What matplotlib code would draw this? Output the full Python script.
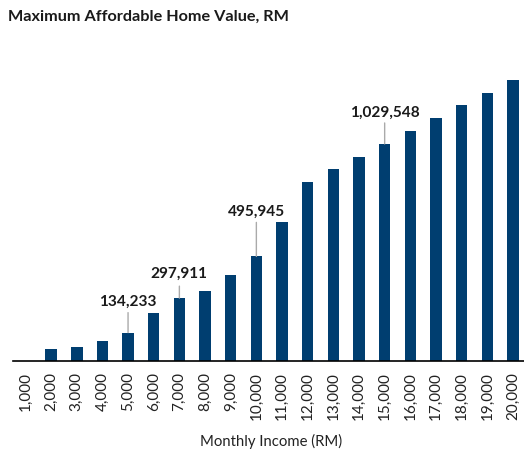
import matplotlib
matplotlib.use("Agg")
import matplotlib.pyplot as plt

incomes = ["1,000", "2,000", "3,000", "4,000", "5,000", "6,000", "7,000", "8,000", "9,000", "10,000",
           "11,000", "12,000", "13,000", "14,000", "15,000", "16,000", "17,000", "18,000", "19,000", "20,000"]
values = [0, 55500, 66400, 95000, 134233, 229000, 297911, 332000, 408000, 495945,
          658000, 849000, 911000, 969000, 1029548, 1091000, 1151000, 1213000, 1273000, 1332000]
labelled = {"5,000": 134233, "7,000": 297911, "10,000": 495945, "15,000": 1029548}

plt.rcParams['font.family'] = ['Lato', 'DejaVu Sans']

fig = plt.figure(figsize=(5.24, 4.5), dpi=100)
ax = fig.add_axes([0.024, 0.198, 0.976, 0.6556])
x = list(range(len(incomes)))
ax.bar(x, values, width=0.45, color="#003e70", zorder=2)
ax.set_xlim(-0.5, 19.43)
ax.set_ylim(0, 1400000)
ax.set_xticks(x)
ax.set_xticklabels(incomes, rotation=90, fontsize=11, color="#222222")
ax.tick_params(axis='x', length=0, pad=8)
ax.set_yticks([])
for s in ["top", "right", "left"]:
    ax.spines[s].set_visible(False)
ax.spines["bottom"].set_color("black")
ax.spines["bottom"].set_linewidth(1.2)
fig.text(0.517, (450 - 441) / 450, "Monthly Income (RM)", fontsize=10.7, color="#222222",
         ha="center", va="center")

offsets = {"5,000": (31, 20), "7,000": (24, 12), "10,000": (45, 34), "15,000": (31, 21)}
for cat, val in labelled.items():
    i = incomes.index(cat)
    toff, loff = offsets[cat]
    ax.annotate("", xy=(i, val), xytext=(0, loff), textcoords="offset pixels",
                arrowprops=dict(arrowstyle="-", color="#aaaaaa", lw=1, shrinkA=0, shrinkB=0))
    ax.annotate(f"{val:,}", xy=(i, val), xytext=(0, toff), textcoords="offset pixels",
                ha="center", va="center", fontsize=11.1, fontweight="bold", color="#1a1a1a")

fig.text(0.015, 0.962, "Maximum Affordable Home Value, RM", fontsize=11.7, fontweight="bold",
         color="#1a1a1a", ha="left", va="center")

fig.savefig("out.png", dpi=100)
